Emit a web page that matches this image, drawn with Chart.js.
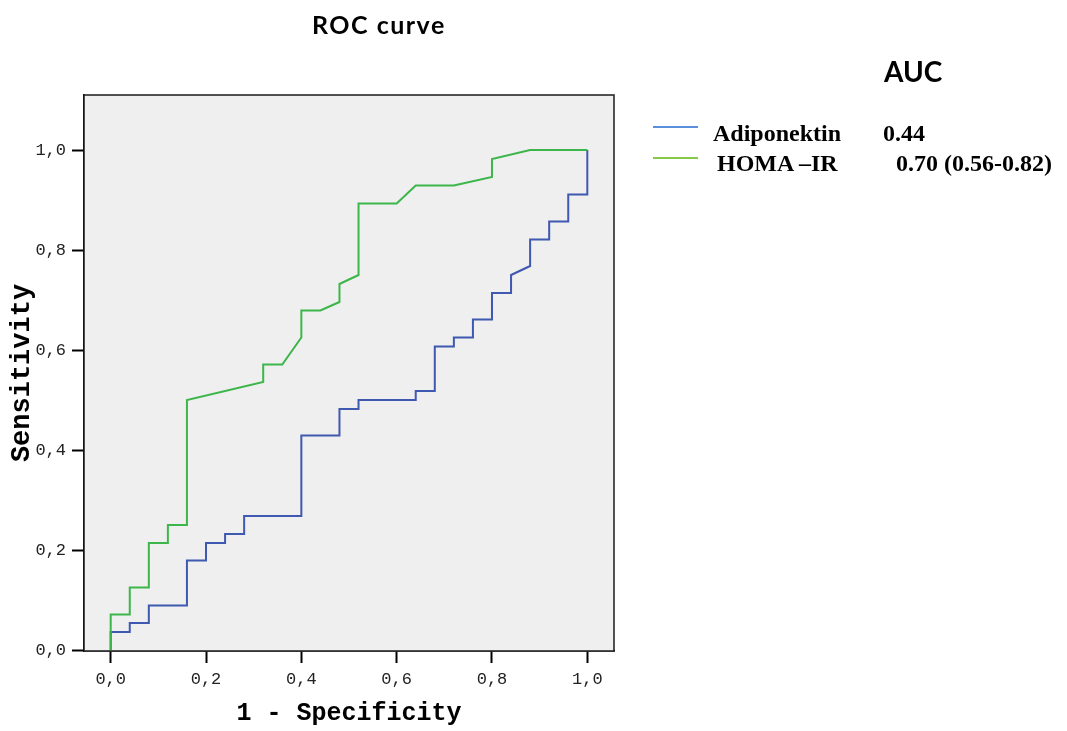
<!DOCTYPE html>
<html>
<head>
<meta charset="utf-8">
<script src="https://cdn.jsdelivr.net/npm/chart.js@4.4.1/dist/chart.umd.min.js"></script>
<style>
    html, body { margin: 0; padding: 0; background: #fff; }
    #wrap { position: relative; width: 1067px; height: 731px; overflow: hidden; }
    #rocChart { position: absolute; left: 0; top: 0; }
    .lbl { position: absolute; white-space: nowrap; line-height: 1; color: #000; }
    .title { font: bold 25px Lato, sans-serif; letter-spacing: 1.5px; }
    .auc { font: bold 28px Lato, sans-serif; }
    .leg { font: bold 24px "Liberation Serif", "Times New Roman", serif; }
    .swatch { position: absolute; height: 2px; width: 45px; }
</style>
</head>
<body>
<div id="wrap">
    <canvas id="rocChart" width="1067" height="731"></canvas>
    <div class="lbl title" style="left:312px; top:9px;">ROC curve</div>
    <div class="lbl auc" style="left:884px; top:54px;">AUC</div>
    <div class="swatch" style="left:653px; top:126px; background:#5b8edb;"></div>
    <div class="lbl leg" style="left:713px; top:120px;">Adiponektin</div>
    <div class="lbl leg" style="left:883px; top:120px;">0.44</div>
    <div class="swatch" style="left:653px; top:157px; background:#85c94a;"></div>
    <div class="lbl leg" style="left:717px; top:150px;">HOMA –IR</div>
    <div class="lbl leg" style="left:896px; top:150px;">0.70 (0.56-0.82)</div>
</div>
<script>
    // ROC points (1 - specificity, sensitivity)
    const adipoX = [0, 0, 0.04, 0.04, 0.08, 0.08, 0.16, 0.16, 0.20, 0.20, 0.24, 0.24, 0.28, 0.28, 0.40, 0.40,
        0.48, 0.48, 0.52, 0.52, 0.64, 0.64, 0.68, 0.68, 0.72, 0.72, 0.76, 0.76, 0.80, 0.80, 0.84, 0.84,
        0.88, 0.88, 0.92, 0.92, 0.96, 0.96, 1.0, 1.0];
    const adipoY = [0, 0.036, 0.036, 0.054, 0.054, 0.089, 0.089, 0.179, 0.179, 0.214, 0.214, 0.232, 0.232, 0.268, 0.268, 0.429,
        0.429, 0.482, 0.482, 0.5, 0.5, 0.518, 0.518, 0.607, 0.607, 0.625, 0.625, 0.661, 0.661, 0.714, 0.714, 0.75,
        0.768, 0.821, 0.821, 0.857, 0.857, 0.911, 0.911, 1.0];

    const homaX = [0, 0, 0.04, 0.04, 0.08, 0.08, 0.12, 0.12, 0.16, 0.16, 0.32, 0.32, 0.36, 0.40, 0.40, 0.44,
        0.48, 0.48, 0.52, 0.52, 0.60, 0.64, 0.72, 0.80, 0.80, 0.88, 1.0];
    const homaY = [0, 0.071, 0.071, 0.125, 0.125, 0.214, 0.214, 0.25, 0.25, 0.5, 0.536, 0.571, 0.571, 0.625, 0.679, 0.679,
        0.696, 0.732, 0.75, 0.893, 0.893, 0.929, 0.929, 0.946, 0.982, 1.0, 1.0];

    const tickValues = [0, 0.2, 0.4, 0.6, 0.8, 1.0];

    const toPoints = (xs, ys) => xs.map((x, i) => ({ x, y: ys[i] }));
    const formatTick = value => value.toFixed(1).replace('.', ',');

    const plotFrame = {
        id: 'plotFrame',
        beforeDatasetsDraw(chart) {
            const { ctx, chartArea: a } = chart;
            ctx.save();
            ctx.fillStyle = '#efefef';
            ctx.fillRect(a.left, a.top, a.right - a.left, a.bottom - a.top);
            ctx.restore();
        },
        afterDraw(chart) {
            const { ctx, chartArea: a } = chart;
            ctx.save();
            ctx.strokeStyle = '#1a1a1a';
            ctx.lineWidth = 1.5;
            ctx.strokeRect(a.left, a.top, a.right - a.left, a.bottom - a.top);
            ctx.restore();
        }
    };

    function axisTicks(scale) {
        scale.ticks = tickValues.map(value => ({ value }));
    }

    new Chart(document.getElementById('rocChart'), {
        type: 'line',
        data: {
            datasets: [{
                label: 'HOMA –IR',
                data: toPoints(homaX, homaY),
                borderColor: '#3cb64b',
                borderWidth: 2,
                pointRadius: 0,
                tension: 0,
                order: 0
            }, {
                label: 'Adiponektin',
                data: toPoints(adipoX, adipoY),
                borderColor: '#3f58b0',
                borderWidth: 2,
                pointRadius: 0,
                tension: 0,
                order: 1
            }]
        },
        options: {
            responsive: false,
            animation: false,
            parsing: false,
            layout: { padding: { top: 95, right: 453, left: 0, bottom: 0 } },
            plugins: {
                legend: { display: false },
                tooltip: { enabled: false }
            },
            scales: {
                x: {
                    type: 'linear',
                    min: -0.056,
                    max: 1.056,
                    afterBuildTicks: axisTicks,
                    afterFit: scale => { scale.height = 80; },
                    grid: { drawOnChartArea: false, tickLength: 12, tickWidth: 2, tickColor: '#000' },
                    border: { color: '#000', width: 1.5 },
                    ticks: {
                        callback: formatTick,
                        padding: 6,
                        color: '#222',
                        maxRotation: 0,
                        autoSkip: false,
                        font: { family: '"Liberation Mono", monospace', size: 17 }
                    },
                    title: {
                        display: true,
                        text: '1 - Specificity',
                        color: '#000',
                        padding: { top: 0, bottom: 2 },
                        font: { family: '"Liberation Mono", monospace', size: 25, weight: 'bold' }
                    }
                },
                y: {
                    type: 'linear',
                    min: -0.002,
                    max: 1.11,
                    afterBuildTicks: axisTicks,
                    afterFit: scale => { scale.width = 84; },
                    grid: { drawOnChartArea: false, tickLength: 12, tickWidth: 2, tickColor: '#000' },
                    border: { color: '#000', width: 1.5 },
                    ticks: {
                        callback: formatTick,
                        padding: 6,
                        color: '#222',
                        autoSkip: false,
                        font: { family: '"Liberation Mono", monospace', size: 17 }
                    },
                    title: {
                        display: true,
                        text: 'Sensitivity',
                        color: '#000',
                        padding: { top: 6, bottom: 0 },
                        font: { family: '"Liberation Mono", monospace', size: 27, weight: 'bold' }
                    }
                }
            }
        },
        plugins: [plotFrame]
    });
</script>
</body>
</html>
